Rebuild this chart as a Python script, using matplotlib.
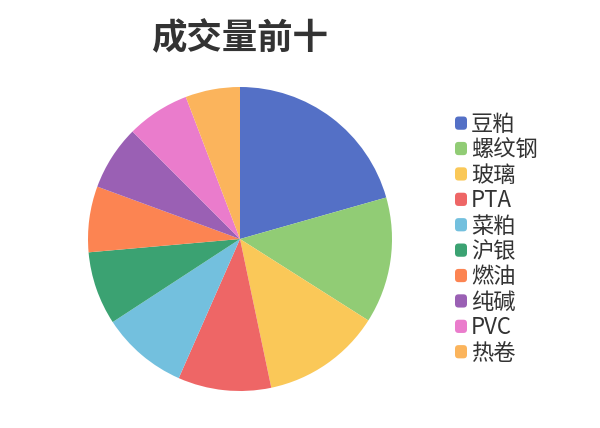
import matplotlib
matplotlib.use("Agg")
import matplotlib.pyplot as plt
from matplotlib.patches import FancyBboxPatch
from matplotlib.legend_handler import HandlerPatch

plt.rcParams['font.family'] = ['Noto Sans CJK SC', 'DejaVu Sans']

# slice shares (percent of top ten)
names = ['豆粕', '螺纹钢', '玻璃', 'PTA', '菜粕', '沪银', '燃油', '纯碱', 'PVC', '热卷']
shares = [20.6, 13.4, 12.7, 9.9, 9.2, 7.8, 7.0, 6.9, 6.7, 5.8]
colors = ['#5470c6', '#91cc75', '#fac858', '#ee6666', '#73c0de',
          '#3ba272', '#fc8452', '#9a60b4', '#ea7ccc', '#fbb45c']


def rounded_box(legend, orig_handle, xdescent, ydescent, width, height, fontsize):
    return FancyBboxPatch((-xdescent, -ydescent), width, height,
                          boxstyle="round,pad=0,rounding_size=2.5")


W, H = 600, 428
fig = plt.figure(figsize=(W / 100, H / 100), dpi=100)

cx, cy, r = 240, 239, 152
ax = fig.add_axes([(cx - r) / W, (H - cy - r) / H, 2 * r / W, 2 * r / H])
wedges, _ = ax.pie(shares, colors=colors, startangle=90, counterclock=False,
                   radius=1, wedgeprops=dict(linewidth=0))
ax.set_xlim(-1, 1)
ax.set_ylim(-1, 1)
ax.set_aspect('equal')
ax.axis('off')

fig.text(cx / W, 1 - 39 / H, '成交量前十', ha='center', va='center',
         fontsize=25.5, fontweight='bold', color='#333333')

fig.legend(wedges, names, loc='upper left', bbox_to_anchor=(455 / W, 1 - 113 / H),
           frameon=False, fontsize=16, labelcolor='#333333',
           handlelength=0.54, handleheight=0.54, handletextpad=0.17,
           labelspacing=0.108, borderpad=0, borderaxespad=0,
           handler_map={matplotlib.patches.Wedge: HandlerPatch(patch_func=rounded_box)})

fig.savefig('out.png', dpi=100, facecolor='white')
